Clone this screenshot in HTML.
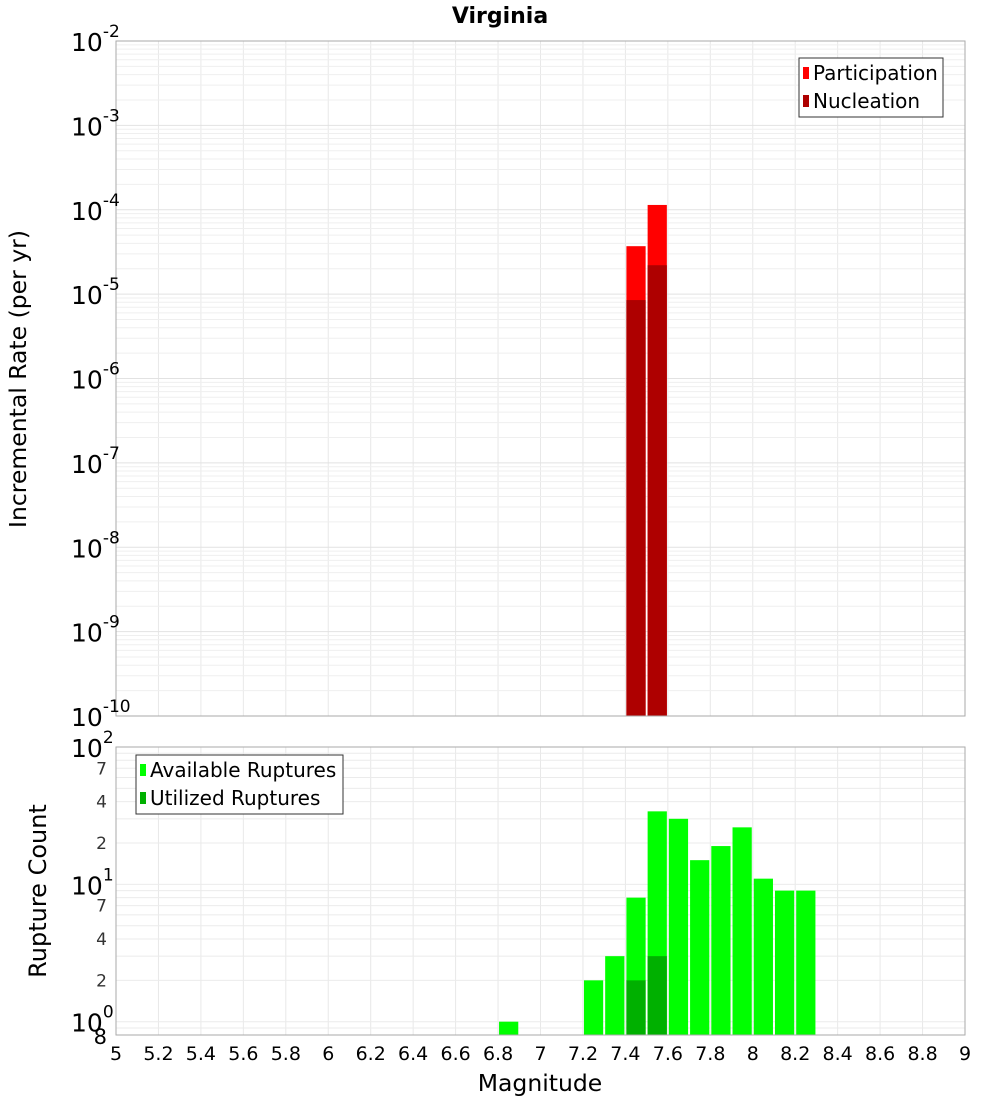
<!DOCTYPE html>
<html><head><meta charset="utf-8"><style>
body{margin:0;background:#fff;font-family:"Liberation Sans","DejaVu Sans",sans-serif}
svg{display:block}
text{font-family:"DejaVu Sans","Liberation Sans",sans-serif}
</style></head><body>
<svg id="c" width="1000" height="1100"></svg>
<script>
const topMags=[7.45,7.55];
const participation=[3.7e-5,1.14e-4];
const nucleation=[8.5e-6,2.2e-5];
const botMags=[6.85,7.25,7.35,7.45,7.55,7.65,7.75,7.85,7.95,8.05,8.15,8.25];
const available=[1,2,3,8,34,30,15,19,26,11,9,9];
const utilMags=[7.45,7.55];
const utilized=[2,3];
const xTicks=["5","5.2","5.4","5.6","5.8","6","6.2","6.4","6.6","6.8","7","7.2","7.4","7.6","7.8","8","8.2","8.4","8.6","8.8","9"];
const topExps=[-2,-3,-4,-5,-6,-7,-8,-9,-10];
const botMinor=[7,4,2];

const NS="http://www.w3.org/2000/svg";
const svg=document.getElementById('c');
function el(t,a,p){const e=document.createElementNS(NS,t);for(const k in a)e.setAttribute(k,a[k]);(p||svg).appendChild(e);return e;}
const X0=116,X1=965;
const x=m=>X0+(m-5)/4*(X1-X0);
const T0=41,T1=716;
const yT=v=>T0+(-2-Math.log10(v))/8*(T1-T0);
const B0=747,B1=1035;
const yB=v=>B1-(Math.log10(v)-Math.log10(0.8))/(2-Math.log10(0.8))*(B1-B0);

const g=el('g',{});

for(let i=0;i<=20;i++){const xx=x(5+i*0.2);
 el('line',{x1:xx,x2:xx,y1:T0,y2:T1,stroke:'#e8e8e8'},g);
 el('line',{x1:xx,x2:xx,y1:B0,y2:B1,stroke:'#e8e8e8'},g);}
for(let e=-10;e<-2;e++)for(let k=1;k<10;k++){const yy=yT(k*Math.pow(10,e));el('line',{x1:X0,x2:X1,y1:yy,y2:yy,stroke:k==1?'#e2e2e2':'#efefef'},g);}
for(let e=-1;e<2;e++)for(let k=1;k<10;k++){const v=k*Math.pow(10,e);if(v<0.8)continue;const yy=yB(v);el('line',{x1:X0,x2:X1,y1:yy,y2:yy,stroke:'#ebebeb'},g);}

const bw=x(5.1)-x(5);
topMags.forEach((m,i)=>{
 const r=el('rect',{x:x(m)-bw/2+1,y:yT(participation[i]),width:bw-2,height:T1-yT(participation[i]),fill:'#ff0000'});
 
 const n=el('rect',{x:x(m)-bw/2+1,y:yT(nucleation[i]),width:bw-2,height:T1-yT(nucleation[i]),fill:'#ae0000'});
 
});
botMags.forEach((m,i)=>{
 const r=el('rect',{x:x(m)-bw/2+1,y:yB(available[i]),width:bw-2,height:B1-yB(available[i]),fill:'#00ff00'});
 
});
utilMags.forEach((m,i)=>{
 const r=el('rect',{x:x(m)-bw/2+1,y:yB(utilized[i]),width:bw-2,height:B1-yB(utilized[i]),fill:'#00b000'});
 
});

el('rect',{x:X0,y:T0,width:X1-X0,height:T1-T0,fill:'none',stroke:'#aaa'});
el('rect',{x:X0,y:B0,width:X1-X0,height:B1-B0,fill:'none',stroke:'#aaa'});

const t=el('text',{x:500,y:23,'text-anchor':'middle','font-size':22,'font-weight':'bold'});t.textContent='Virginia';


topExps.forEach(e=>{const yy=yT(Math.pow(10,e));
 const tx=el('text',{x:71,y:yy+10,'font-size':25});
 
 const a=el('tspan',{},tx);a.textContent='10';
 const b=el('tspan',{dy:-14,'font-size':17},tx);b.textContent=String(e);
});
[[100,'2'],[10,'1'],[1,'0']].forEach(([v,s])=>{const yy=yB(v);
 const tx=el('text',{x:71,y:yy+10,'font-size':25});
 
 const a=el('tspan',{},tx);a.textContent='10';
 const b=el('tspan',{dy:-14,'font-size':17},tx);b.textContent=s;});
[1,10].forEach(d=>botMinor.forEach(k=>{const yy=yB(k*d);
 const tx=el('text',{x:107,y:yy+6,'text-anchor':'end','font-size':17,fill:'#333'});tx.textContent=String(k);
 }));
const t8=el('text',{x:107,y:B1+9,'text-anchor':'end','font-size':21});t8.textContent='8';


xTicks.forEach((s,i)=>{const tx=el('text',{x:x(5+i*0.2),y:1060,'text-anchor':'middle','font-size':19});tx.textContent=s;
 });
const xt=el('text',{x:540,y:1091,'text-anchor':'middle','font-size':23.5});xt.textContent='Magnitude';

const yt1=el('text',{x:0,y:0,'text-anchor':'middle','font-size':23.5,transform:'translate(26,379) rotate(-90)'});yt1.textContent='Incremental Rate (per yr)';

const yt2=el('text',{x:0,y:0,'text-anchor':'middle','font-size':24,transform:'translate(46,891) rotate(-90)'});yt2.textContent='Rupture Count';


function legend(x0,y0,w,items,name){const lg=el('g',{});
 
 el('rect',{x:x0,y:y0,width:w,height:59,fill:'#fff',stroke:'#333'},lg);
 items.forEach(([c,s],i)=>{const yy=y0+15+i*28;
  el('rect',{x:x0+4,y:yy-6,width:6,height:12,fill:c},lg);
  const tx=el('text',{x:x0+14,y:yy+7,'font-size':20},lg);tx.textContent=s;
  });}
legend(799,58,144,[['#ff0000','Participation'],['#ae0000','Nucleation']],'legend-top');
legend(136,755,207,[['#00ff00','Available Ruptures'],['#00b000','Utilized Ruptures']],'legend-bottom');
</script>
</body></html>
